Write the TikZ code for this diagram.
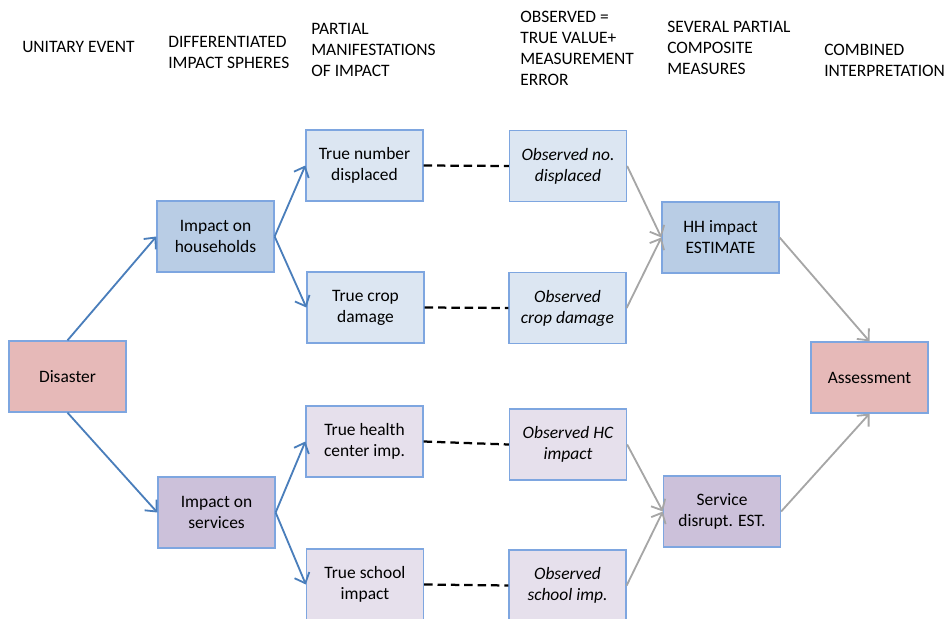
\documentclass[tikz,border=0pt]{standalone}
\usepackage{fontspec}
\setmainfont{Carlito}
\usetikzlibrary{arrows.meta}
\tikzset{>={Straight Barb[length=2.2mm,width=4mm]}}
\definecolor{boxline}{HTML}{7EA6E0}
\definecolor{hhdark}{HTML}{B9CDE5}
\definecolor{hhlight}{HTML}{DCE6F2}
\definecolor{svdark}{HTML}{CCC1DA}
\definecolor{svlight}{HTML}{E6E0EC}
\definecolor{rose}{HTML}{E6B9B8}
\definecolor{arrowblue}{HTML}{4A7EBB}
\definecolor{arrowgrey}{HTML}{A6A6A6}
\tikzset{
  box/.style={draw=boxline,line width=0.9pt,inner sep=0pt,align=center,
    minimum width=2.925cm,minimum height=1.775cm,
    font=\fontsize{12.4}{14.9}\selectfont},
  obs/.style={box,font=\fontsize{12.4}{14.9}\selectfont\itshape},
  head/.style={anchor=base west,inner sep=0pt,align=left,
    font=\fontsize{12.4}{14.9}\selectfont},
  bluearrow/.style={->,arrowblue,line width=1.3pt},
  greyarrow/.style={->,arrowgrey,line width=1.3pt},
  link/.style={line width=1.6pt,dash pattern=on 6pt off 3.5pt},
}

\begin{document}
\begin{tikzpicture}[x=0.025cm,y=-0.025cm]
  \useasboundingbox (0,0) rectangle (949,619);
  % column headings (anchored at the last line)
  \node[head] (hevent)  at (22,52)  {UNITARY EVENT};
  \node[head] (hsphere) at (168,68) {DIFFERENTIATED\\IMPACT SPHERES};
  \node[head] (hpart)   at (311,76) {PARTIAL\\MANIFESTATIONS\\OF IMPACT};
  \node[head] (hobs)    at (520,85) {OBSERVED =\\TRUE VALUE+\\MEASUREMENT\\ERROR};
  \node[head] (hcomp)   at (667,74) {SEVERAL PARTIAL\\COMPOSITE\\MEASURES};
  \node[head] (hcomb)   at (824,76) {COMBINED\\INTERPRETATION};
  % boxes
  \node[box,fill=rose]     (disaster)   at (67.5,376.5) {Disaster};
  \node[box,fill=hhdark]   (hh)         at (215.5,236.5) {Impact on\\households};
  \node[box,fill=svdark]   (serv)       at (216.5,512.5) {Impact on\\services};
  \node[box,fill=hhlight]  (truedisp)   at (364.5,165.5) {True number\\displaced};
  \node[box,fill=hhlight]  (truecrop)   at (365.5,307.5) {True crop\\damage};
  \node[box,fill=svlight]  (truehc)     at (364.5,441.5) {True health\\center imp.};
  \node[box,fill=svlight]  (trueschool) at (365,584.5) {True school\\impact};
  \node[obs,fill=hhlight]  (obsdisp)    at (568,166) {Observed no.\\displaced};
  \node[obs,fill=hhlight]  (obscrop)    at (567.5,308) {Observed\\crop damage};
  \node[obs,fill=svlight]  (obshc)      at (568,444.5) {Observed HC\\impact};
  \node[obs,fill=svlight]  (obsschool)  at (567.5,585.5) {Observed\\school imp.};
  \node[box,fill=hhdark]   (hhest)      at (720.5,237.5) {HH impact\\ESTIMATE};
  \node[box,fill=svdark]   (servest)    at (722,511.5) {Service\\disrupt. EST.};
  \node[box,fill=rose]     (assess)     at (869.5,377.5) {Assessment};
  % connectors
  \draw[bluearrow] (disaster.north) -- (hh.west);
  \draw[bluearrow] (disaster.south) -- (serv.west);
  \draw[bluearrow] (hh.east) -- (truedisp.west);
  \draw[bluearrow] (hh.east) -- (truecrop.west);
  \draw[bluearrow] (serv.east) -- (truehc.west);
  \draw[bluearrow] (serv.east) -- (trueschool.west);
  \draw[link] (truedisp.east) -- (obsdisp.west);
  \draw[link] (truecrop.east) -- (obscrop.west);
  \draw[link] (truehc.east) -- (obshc.west);
  \draw[link] (trueschool.east) -- (obsschool.west);
  \draw[greyarrow] (obsdisp.east) -- (hhest.west);
  \draw[greyarrow] (obscrop.east) -- (hhest.west);
  \draw[greyarrow] (obshc.east) -- (servest.west);
  \draw[greyarrow] (obsschool.east) -- (servest.west);
  \draw[greyarrow] (hhest.east) -- (assess.north);
  \draw[greyarrow] (servest.east) -- (assess.south);
\end{tikzpicture}
\end{document}
